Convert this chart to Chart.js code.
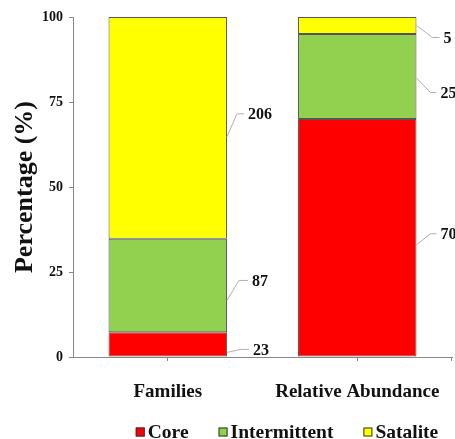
<!DOCTYPE html>
<html>
<head>
<meta charset="utf-8">
<script src="https://cdn.jsdelivr.net/npm/chart.js@4.4.1/dist/chart.umd.min.js"></script>
<style>
  html, body { margin: 0; padding: 0; background: #fff; }
  canvas { display: block; }
</style>
</head>
<body>
<canvas id="grafico" width="455" height="439"></canvas>
<script>
// dados
const categorias = ['Families', 'Relative Abundance'];
const nomesSeries = ['Core', 'Intermittent', 'Satalite'];
const valoresCore = [23, 70];
const valoresIntermittent = [87, 25];
const valoresSatalite = [206, 5];
const ticksY = [0, 25, 50, 75, 100];

const coresSeries = ['#FF0000', '#92D050', '#FFFF00'];
const FONTE = '"Liberation Serif", "Times New Roman", serif';

// percentual de cada valor dentro da sua categoria
const series = [valoresCore, valoresIntermittent, valoresSatalite];
const totais = categorias.map((_, j) => series.reduce((s, arr) => s + arr[j], 0));
const paraPercentual = arr => arr.map((v, j) => v / totais[j] * 100);

// posição das etiquetas: [inicioDy, etiquetaDy, cotoveloDx, textoDx]
const posEtiquetas = [
    [[8, 5, 14, 26], [7, -4, 14, 24]],
    [[15, -5, 12, 25], [1.5, 16, 14, 24]],
    [[9, -14, 10, 21], [0, 12, 16, 27]]
];

const pluginEtiquetas = {
    id: 'etiquetas',
    afterDatasetsDraw(chart) {
        const { ctx } = chart;
        ctx.save();
        ctx.font = 'bold 16px ' + FONTE;
        ctx.textBaseline = 'middle';
        ctx.textAlign = 'left';
        chart.data.datasets.forEach((ds, i) => {
            chart.getDatasetMeta(i).data.forEach((bar, j) => {
                const p = bar.getProps(['x', 'y', 'base', 'width'], true);
                const dir = p.x + p.width / 2;
                const cy = (p.y + p.base) / 2;
                const [sDy, lDy, kDx, tDx] = posEtiquetas[i][j];
                ctx.strokeStyle = '#b0b0b0';
                ctx.lineWidth = 1;
                ctx.beginPath();
                ctx.moveTo(dir, cy + sDy);
                ctx.lineTo(dir + kDx, cy + lDy);
                ctx.lineTo(dir + tDx - 4, cy + lDy);
                ctx.stroke();
                ctx.fillStyle = '#111';
                ctx.fillText(String(series[i][j]), dir + tDx, cy + lDy + 1);
            });
        });
        // marca final do eixo x
        const xs = chart.scales.x;
        ctx.strokeStyle = '#888';
        ctx.beginPath();
        ctx.moveTo(xs.right - 0.5, xs.top);
        ctx.lineTo(xs.right - 0.5, xs.top + 4);
        ctx.stroke();
        ctx.restore();
    }
};

const pluginLegenda = {
    id: 'legenda',
    afterDraw(chart) {
        const { ctx } = chart;
        ctx.save();
        ctx.font = 'bold 19.5px ' + FONTE;
        ctx.textBaseline = 'middle';
        ctx.textAlign = 'left';
        const caixa = 9, folga = 3, entre = 30;
        const larguras = nomesSeries.map(n => ctx.measureText(n).width);
        const total = larguras.reduce((s, w) => s + caixa + folga + w, 0) + entre * (nomesSeries.length - 1);
        let x = 287 - total / 2;
        const y = 432;
        nomesSeries.forEach((n, i) => {
            ctx.fillStyle = coresSeries[i];
            ctx.fillRect(x, y - caixa / 2, caixa, caixa);
            ctx.strokeStyle = '#333';
            ctx.lineWidth = 1;
            ctx.strokeRect(x + 0.5, y - caixa / 2 + 0.5, caixa - 1, caixa - 1);
            ctx.fillStyle = '#111';
            ctx.fillText(n, x + caixa + folga, y + 1);
            x += caixa + folga + larguras[i] + entre;
        });
        ctx.restore();
    }
};

const ctx = document.getElementById('grafico').getContext('2d');
new Chart(ctx, {
    type: 'bar',
    data: {
        labels: categorias,
        datasets: nomesSeries.map((nome, i) => ({
            label: nome,
            data: paraPercentual(series[i]),
            backgroundColor: coresSeries[i],
            borderColor: '#555',
            borderWidth: 1,
            borderSkipped: false,
            categoryPercentage: 1,
            barPercentage: 0.625
        }))
    },
    options: {
        responsive: false,
        animation: false,
        layout: { padding: { top: 17, right: 3, bottom: 0, left: 0 } },
        plugins: { legend: { display: false }, tooltip: { enabled: false } },
        scales: {
            x: {
                stacked: true,
                afterFit: s => { s.height = 82; s.paddingLeft = 0; s.paddingRight = 0; },
                grid: { offset: false, drawOnChartArea: false, tickLength: 4, color: '#888' },
                border: { color: '#888' },
                ticks: { padding: 20, maxRotation: 0, autoSkip: false, color: '#111', font: { family: FONTE, size: 19, weight: 'bold' } }
            },
            y: {
                stacked: true,
                min: 0,
                max: 100,
                afterFit: s => { s.width = 73; s.paddingTop = 0; s.paddingBottom = 0; },
                afterBuildTicks: s => { s.ticks = ticksY.map(v => ({ value: v })); },
                grid: { drawOnChartArea: false, tickLength: 4, color: '#888' },
                border: { color: '#888' },
                ticks: { padding: 6, color: '#111', font: { family: FONTE, size: 14, weight: 'bold' } },
                title: {
                    display: true,
                    text: 'Percentage (%)',
                    color: '#111',
                    padding: { top: 10, bottom: 0 },
                    font: { family: FONTE, size: 26, weight: 'bold' }
                }
            }
        }
    },
    plugins: [pluginEtiquetas, pluginLegenda]
});
</script>
</body>
</html>
